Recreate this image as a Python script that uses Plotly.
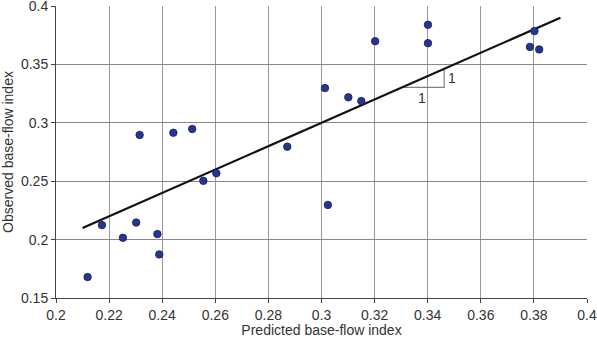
import plotly.graph_objects as go

predicted = [0.2119, 0.2173, 0.2252, 0.2302, 0.2315, 0.2382, 0.2389, 0.2442, 0.2513,
             0.2555, 0.2604, 0.2871, 0.3013, 0.3024, 0.3101, 0.3150, 0.3202, 0.3401,
             0.3401, 0.3785, 0.3802, 0.3820]
observed = [0.1679, 0.2124, 0.2015, 0.2146, 0.2896, 0.2047, 0.1873, 0.2915, 0.2947,
            0.2503, 0.2568, 0.2796, 0.3297, 0.2297, 0.3218, 0.3186, 0.3699, 0.3839,
            0.3682, 0.3650, 0.3785, 0.3628]

line_x = [0.21, 0.39]
line_y = [0.21, 0.39]

tri_x = [0.3303, 0.3462, 0.3462]
tri_y = [0.3303, 0.3303, 0.3462]

x_ticks = [0.2, 0.22, 0.24, 0.26, 0.28, 0.3, 0.32, 0.34, 0.36, 0.38, 0.4]
x_labels = ["0.2", "0.22", "0.24", "0.26", "0.28", "0.3", "0.32", "0.34", "0.36", "0.38", "0.4"]
y_ticks = [0.15, 0.2, 0.25, 0.3, 0.35, 0.4]
y_labels = ["0.15", "0.2", "0.25", "0.3", "0.35", "0.4"]

font = "Liberation Sans"

fig = go.Figure()
fig.add_trace(go.Scatter(x=tri_x, y=tri_y, mode="lines",
                         line=dict(color="#808080", width=1.2), hoverinfo="skip"))
fig.add_trace(go.Scatter(x=line_x, y=line_y, mode="lines",
                         line=dict(color="#111111", width=2.2)))
fig.add_trace(go.Scatter(x=predicted, y=observed, mode="markers",
                         marker=dict(size=7.5, color="#24378f",
                                     line=dict(color="#14205a", width=0.8))))

fig.add_annotation(x=0.3379, y=0.3303, text="1", showarrow=False, yanchor="top",
                   yshift=-1, font=dict(family=font, size=14, color="#333333"))
fig.add_annotation(x=0.3462, y=0.3385, text="1", showarrow=False, xanchor="left",
                   xshift=2, font=dict(family=font, size=14, color="#333333"))

fig.update_layout(
    width=597, height=338,
    margin=dict(l=56, r=10, t=6, b=40),
    plot_bgcolor="white", paper_bgcolor="white",
    showlegend=False,
    font=dict(family=font, size=14, color="#333333"),
    xaxis=dict(range=[0.2, 0.4], tickvals=x_ticks, ticktext=x_labels,
               showgrid=True, gridcolor="#999999", gridwidth=1,
               showline=True, linecolor="#444444", linewidth=1,
               ticks="outside", ticklen=4, tickcolor="#444444",
               zeroline=False, mirror=False, ticklabeloverflow="allow",
               automargin=False,
               title=dict(text="Predicted base-flow index", standoff=2,
                          font=dict(size=14))),
    yaxis=dict(range=[0.15, 0.4], tickvals=y_ticks, ticktext=y_labels,
               showgrid=True, gridcolor="#888888", gridwidth=1,
               showline=True, linecolor="#444444", linewidth=1,
               ticks="outside", ticklen=4, tickcolor="#444444",
               zeroline=False, ticklabeloverflow="allow",
               automargin=False,
               title=dict(text="Observed base-flow index", standoff=6,
                          font=dict(size=14))),
)

fig.write_html("out.html", config={"displayModeBar": False},
               post_script="document.body.style.margin='0';document.body.style.overflow='hidden';")
